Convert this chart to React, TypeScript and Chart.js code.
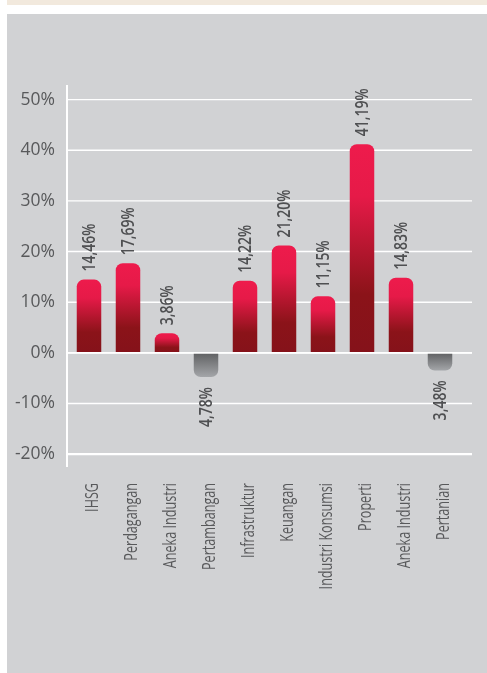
import React, { useEffect, useRef } from "react";
import { Chart, registerables } from "chart.js";

Chart.register(...registerables);

const categories = [
  "IHSG",
  "Perdagangan",
  "Aneka Industri",
  "Pertambangan",
  "Infrastruktur",
  "Keuangan",
  "Industri Konsumsi",
  "Properti",
  "Aneka Industri",
  "Pertanian",
];
const returns = [14.46, 17.69, 3.86, -4.78, 14.22, 21.2, 11.15, 41.19, 14.83, -3.48];
const yTickValues = [-20, -10, 0, 10, 20, 30, 40, 50];
const yMin = -22.54;
const yMax = 52.88;

const TEXT_GRAY = "#58595b";

function fmt(v: number) {
  return Math.abs(v).toFixed(2).replace(".", ",") + "%";
}

function drawRotated(
  ctx: CanvasRenderingContext2D,
  text: string,
  x: number,
  y: number,
  align: CanvasTextAlign,
  font: string,
  color: string,
  sx: number
) {
  ctx.save();
  ctx.translate(x, y);
  ctx.rotate(-Math.PI / 2);
  ctx.scale(sx, 1);
  ctx.font = font;
  ctx.fillStyle = color;
  ctx.textAlign = align;
  ctx.textBaseline = "middle";
  ctx.fillText(text, 0, 0);
  ctx.restore();
}

const decorPlugin = {
  id: "decor",
  beforeDatasetsDraw(chart: any) {
    const { ctx, chartArea } = chart;
    const y = chart.scales.y;
    const left = chartArea.left - 2.5;
    const right = chartArea.right + 12.5;
    ctx.save();
    ctx.strokeStyle = "#ffffff";
    yTickValues.forEach((v) => {
      const py = y.getPixelForValue(v);
      ctx.lineWidth = v === yTickValues[0] ? 2.2 : 1.4;
      ctx.beginPath();
      ctx.moveTo(left, py);
      ctx.lineTo(right, py);
      ctx.stroke();
    });
    ctx.lineWidth = 2;
    ctx.beginPath();
    ctx.moveTo(left, chartArea.top);
    ctx.lineTo(left, chartArea.bottom);
    ctx.stroke();
    ctx.restore();
  },
  afterDatasetsDraw(chart: any) {
    const { ctx, chartArea } = chart;
    const y = chart.scales.y;
    const x = chart.scales.x;
    const meta = chart.getDatasetMeta(0);
    // zero line over bars
    ctx.save();
    ctx.strokeStyle = "#ffffff";
    ctx.lineWidth = 1.8;
    const p0 = y.getPixelForValue(0);
    ctx.beginPath();
    ctx.moveTo(chartArea.left - 2.5, p0);
    ctx.lineTo(chartArea.right + 12.5, p0);
    ctx.stroke();
    ctx.restore();

    // value labels
    meta.data.forEach((el: any, i: number) => {
      const v = returns[i];
      const font = "600 17.5px 'Open Sans'";
      if (v >= 0) {
        drawRotated(ctx, fmt(v), el.x + 1, el.y - 8, "left", font, "#4f5052", 0.8);
      } else {
        drawRotated(ctx, fmt(v), el.x + 1, el.y + 10, "right", font, "#4f5052", 0.8);
      }
    });

    // category labels
    categories.forEach((c, i) => {
      const px = x.getPixelForValue(i);
      drawRotated(ctx, c, px + 4, chartArea.bottom + 16, "right", "400 18px 'Open Sans'", TEXT_GRAY, 0.7);
    });
  },
};

export default function App() {
  const ref = useRef<HTMLCanvasElement | null>(null);

  useEffect(() => {
    if (!ref.current) return;
    const chart = new Chart(ref.current, {
      type: "bar",
      data: {
        labels: categories,
        datasets: [
          {
            data: returns,
            barThickness: 24.5,
            borderRadius: 7,
            borderSkipped: "start",
            inflateAmount: 0,
            backgroundColor: (c: any) => {
              const chart = c.chart;
              const { ctx, chartArea } = chart;
              if (!chartArea || c.dataIndex == null) return "#c8173c";
              const ys = chart.scales.y;
              const v = returns[c.dataIndex];
              const pBase = ys.getPixelForValue(0);
              const pTip = ys.getPixelForValue(v);
              const g = ctx.createLinearGradient(0, pTip, 0, pBase);
              if (v >= 0) {
                g.addColorStop(0, "#ee1b4c");
                g.addColorStop(0.25, "#e61a48");
                g.addColorStop(0.72, "#8b1319");
                g.addColorStop(1, "#85121a");
              } else {
                g.addColorStop(0, "#a4a6a9");
                g.addColorStop(1, "#5f6062");
              }
              return g;
            },
          } as any,
        ],
      },
      options: {
        responsive: false,
        animation: false,
        devicePixelRatio: 1,
        layout: { padding: { left: 0, right: 27.5, top: 85, bottom: 206 } },
        plugins: {
          legend: { display: false },
          tooltip: { enabled: false },
        },
        scales: {
          x: {
            display: false,
            offset: true,
          },
          y: {
            min: yMin,
            max: yMax,
            afterBuildTicks: (s: any) => {
              s.ticks = yTickValues.map((v) => ({ value: v }));
            },
            afterFit: (s: any) => {
              s.width = 69.5;
            },
            grid: { display: false, drawTicks: false },
            border: { display: false },
            ticks: {
              padding: 14.5,
              color: TEXT_GRAY,
              font: { family: "'Open Sans'", size: 17.5 },
              callback: (v: any) => v + "%",
            },
          },
        },
      },
      plugins: [decorPlugin],
    });
    return () => chart.destroy();
  }, []);

  return (
    <div
      style={{
        position: "fixed",
        left: 0,
        top: 0,
        width: 487,
        height: 673,
        background: "#ffffff",
        overflow: "hidden",
      }}
    >
      <div style={{ position: "absolute", left: 7, top: 0, width: 480, height: 5, background: "#f2e9dd" }} />
      <div style={{ position: "absolute", left: 7, top: 14, width: 480, height: 659, background: "#d1d2d4" }} />
      <canvas
        ref={ref}
        width={487}
        height={673}
        style={{ position: "absolute", left: 0, top: 0, width: 487, height: 673 }}
      />
    </div>
  );
}
